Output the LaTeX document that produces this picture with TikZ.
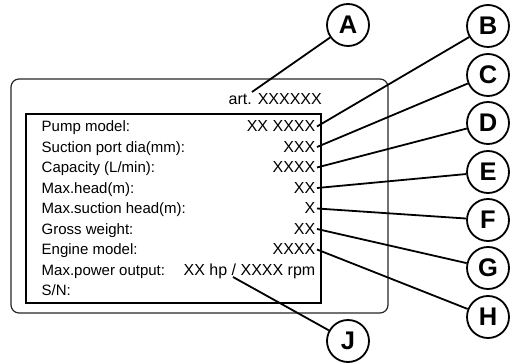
\documentclass[tikz,border=0pt]{standalone}
\usepackage{fontspec}
\setmainfont{Liberation Sans}

\begin{document}
\begin{tikzpicture}[
    x=1pt, y=-1pt,
    plate/.style={draw=black!85, line width=1.2pt, rounded corners=8pt},
    innerframe/.style={draw=black, line width=2.6pt},
    lbl/.style={anchor=base west, inner sep=0pt, font=\fontsize{15}{18}\selectfont},
    val/.style={anchor=base east, inner sep=1.5pt, font=\fontsize{16}{19}\selectfont},
    callout/.style={circle, draw=black, line width=1.8pt, minimum size=42pt, inner sep=0pt, font=\fontsize{25.5}{30}\selectfont\bfseries},
    leader/.style={draw=black, line width=1.8pt}
]
\useasboundingbox (0,0) rectangle (517,363);

% Name plate
\draw[plate] (11,79) rectangle (388,313);
\draw[innerframe] (26,114) rectangle (321,303);

% Article number
\node[val] (art) at (323.5,105) {art. XXXXXX};
\coordinate (artdot) at (252,92);

% Labels
\node[lbl] (pump) at (41.5,132) {Pump model:};
\node[lbl] (suction) at (41.5,152.5) {Suction port dia(mm):};
\node[lbl] (capacity) at (41.5,173) {Capacity (L/min):};
\node[lbl] (head) at (41.5,193.5) {Max.head(m):};
\node[lbl] (suchead) at (41.5,214) {Max.suction head(m):};
\node[lbl] (weight) at (41.5,234.5) {Gross weight:};
\node[lbl] (engine) at (41.5,255) {Engine model:};
\node[lbl] (power) at (41.5,275.5) {Max.power output:};
\node[lbl] (sn) at (41.5,296) {S/N:};

% Values
\node[val] (vpump) at (317,132) {XX XXXX};
\node[val] (vsuction) at (317,152.5) {XXX};
\node[val] (vcapacity) at (317,173) {XXXX};
\node[val] (vhead) at (317,193.5) {XX};
\node[val] (vsuchead) at (317,214) {X};
\node[val] (vweight) at (317,234.5) {XX};
\node[val] (vengine) at (317,255) {XXXX};
\node[val] (vpower) at (317,275.5) {XX hp / XXXX rpm};
\coordinate (slash) at (233,277);

% Callouts
\node[callout] (cA) at (348,25) {A};
\node[callout] (cB) at (488,26) {B};
\node[callout] (cC) at (488,75) {C};
\node[callout] (cD) at (488,123) {D};
\node[callout] (cE) at (488,172) {E};
\node[callout] (cF) at (488,220) {F};
\node[callout] (cG) at (488,268) {G};
\node[callout] (cH) at (488,317) {H};
\node[callout] (cJ) at (348,341) {J};

% Leader lines
\draw[leader] (cA) -- (artdot);
\draw[leader] (cB) -- (vpump.east);
\draw[leader] (cC) -- (vsuction.east);
\draw[leader] (cD) -- (vcapacity.east);
\draw[leader] (cE) -- (vhead.east);
\draw[leader] (cF) -- (vsuchead.east);
\draw[leader] (cG) -- (vweight.east);
\draw[leader] (cH) -- (vengine.east);
\draw[leader] (cJ) -- (slash);

\end{tikzpicture}
\end{document}
